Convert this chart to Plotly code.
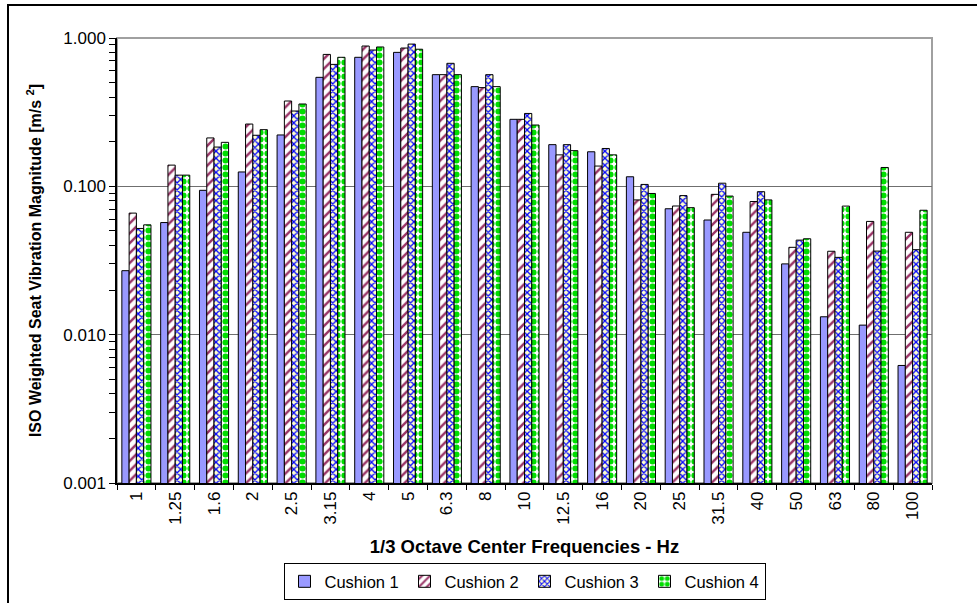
import plotly.graph_objects as go

freqs = ["1", "1.25", "1.6", "2", "2.5", "3.15", "4", "5", "6.3", "8", "10",
         "12.5", "16", "20", "25", "31.5", "40", "50", "63", "80", "100"]
cushion1 = [0.027, 0.057, 0.094, 0.125, 0.222, 0.543, 0.741, 0.80, 0.566, 0.47, 0.283,
            0.191, 0.171, 0.116, 0.0706, 0.0593, 0.049, 0.030, 0.0132, 0.0116, 0.0062]
cushion2 = [0.066, 0.139, 0.212, 0.263, 0.376, 0.775, 0.883, 0.856, 0.566, 0.463, 0.283,
            0.163, 0.137, 0.081, 0.0737, 0.0883, 0.079, 0.0388, 0.0365, 0.058, 0.049]
cushion3 = [0.052, 0.119, 0.184, 0.221, 0.322, 0.664, 0.83, 0.91, 0.675, 0.566, 0.31,
            0.191, 0.18, 0.103, 0.0866, 0.105, 0.092, 0.0434, 0.0332, 0.0366, 0.0374]
cushion4 = [0.055, 0.119, 0.198, 0.241, 0.359, 0.741, 0.87, 0.84, 0.566, 0.47, 0.259,
            0.174, 0.163, 0.0895, 0.0718, 0.086, 0.081, 0.0443, 0.0736, 0.134, 0.069]
series_names = ["Cushion 1", "Cushion 2", "Cushion 3", "Cushion 4"]
y_tickvals = [0.001, 0.01, 0.1, 1.0]
y_ticktext = ["0.001", "0.010", "0.100", "1.000"]

FONT = "Arial, Liberation Sans, sans-serif"

styles = [
    dict(color="#9999FF"),
    dict(color="white", pattern=dict(shape="/", fgcolor="#993366", bgcolor="white",
                                     size=7, solidity=0.35, fillmode="replace")),
    dict(color="#0000FF", pattern=dict(shape="x", fgcolor="#0000FF", bgcolor="#FFFFCC",
                                       size=5, solidity=0.45, fillmode="replace")),
    dict(color="#00FF00", pattern=dict(shape=".", fgcolor="#00DD00", bgcolor="white",
                                       size=7, solidity=0.6, fillmode="replace")),
]

fig = go.Figure()
for name, vals, st in zip(series_names, [cushion1, cushion2, cushion3, cushion4], styles):
    marker = dict(line=dict(color="black", width=1))
    marker.update(st)
    fig.add_trace(go.Bar(x=freqs, y=vals, name=name, marker=marker))

fig.update_layout(
    width=977, height=603,
    margin=dict(l=117, r=45, t=38, b=120, autoexpand=False),
    paper_bgcolor="white", plot_bgcolor="white",
    barmode="group", bargap=0.25, bargroupgap=0.0,
    font=dict(family=FONT, size=17, color="black"),
    showlegend=True,
    legend=dict(orientation="h", x=0.5, xanchor="center", y=-0.18, yanchor="top",
                bordercolor="black", borderwidth=1, font=dict(size=16.5),
                itemwidth=30, entrywidth=75, entrywidthmode="pixels"),
    xaxis=dict(
        type="category", tickangle=-90, ticks="outside", ticklen=5, tickson="boundaries",
        tickcolor="black", showline=True, linecolor="black", linewidth=1.5,
        showgrid=False, automargin=False,
        title=dict(text="1/3 Octave Center Frequencies - Hz",
                   font=dict(size=18.5, weight="bold", family=FONT), standoff=16),
        tickfont=dict(size=17),
    ),
    yaxis=dict(
        type="log", range=[-3, 0], tickvals=y_tickvals, ticktext=y_ticktext,
        ticks="outside", ticklen=6, tickcolor="black",
        minor=dict(ticks="outside", ticklen=6, tickcolor="black", dtick="D1", showgrid=False),
        showline=True, linecolor="black", linewidth=1.5,
        showgrid=True, gridcolor="#6f6f6f", gridwidth=1, automargin=False,
        title=dict(text="ISO Weighted Seat Vibration Magnitude [m/s <sup>2</sup>]",
                   font=dict(size=16, weight="bold", family=FONT), standoff=18),
        tickfont=dict(size=17), zeroline=False,
    ),
)

# plot-area gray frame (top/right)
fig.add_shape(type="rect", xref="paper", yref="paper", x0=0, x1=1, y0=0, y1=1,
              line=dict(color="#A0A0A0", width=2), layer="below")
# outer chart border (right/bottom edges fall outside the picture)
fig.add_shape(type="rect", xref="paper", yref="paper",
              x0=(8 - 117) / 815, x1=(1000 - 117) / 815,
              y0=(483 - 640) / 445, y1=(483 - 5) / 445,
              line=dict(color="black", width=2), layer="below")

fig.write_html("out.html")
